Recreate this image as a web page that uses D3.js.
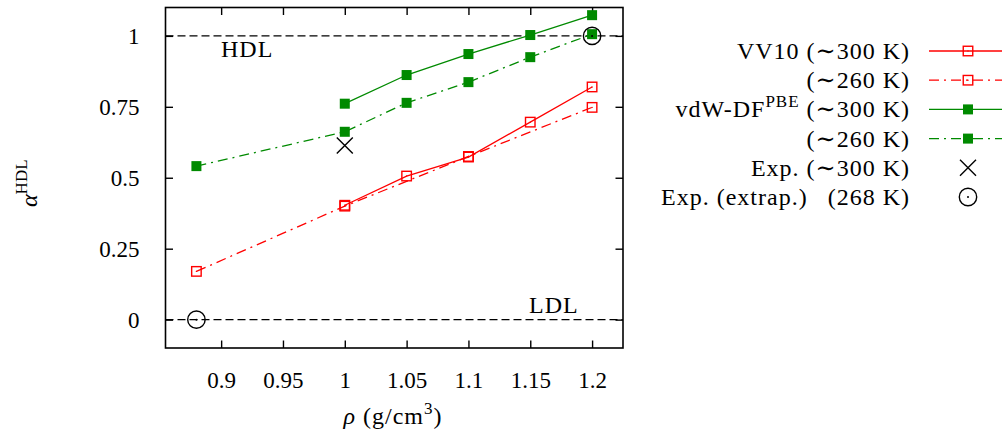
<!DOCTYPE html>
<html>
<head>
<meta charset="utf-8">
<script src="https://cdn.jsdelivr.net/npm/d3@7"></script>
<style>
  html, body { margin: 0; padding: 0; background: #fff; }
  svg { display: block; }
  text { font-family: "Liberation Serif", "DejaVu Serif", serif; fill: #000; }
</style>
</head>
<body>
<svg id="chart" width="1002" height="435"></svg>
<script>
// Density (g/cm^3) and HDL fraction for each simulation set
const vv10_300_rho = [1.0, 1.05, 1.1, 1.15, 1.2];
const vv10_300_val = [0.403, 0.506, 0.573, 0.696, 0.820];
const vv10_260_rho = [0.88, 1.0, 1.1, 1.2];
const vv10_260_val = [0.170, 0.400, 0.575, 0.748];
const vdw_300_rho = [1.0, 1.05, 1.1, 1.15, 1.2];
const vdw_300_val = [0.761, 0.862, 0.936, 1.003, 1.073];
const vdw_260_rho = [0.88, 1.0, 1.05, 1.1, 1.15, 1.2];
const vdw_260_val = [0.541, 0.662, 0.764, 0.837, 0.925, 1.006];
const exp300_rho = [1.0];
const exp300_val = [0.614];
const expExtrap_rho = [0.88, 1.2];
const expExtrap_val = [0.0, 1.0];

const xTicks = [0.9, 0.95, 1.0, 1.05, 1.1, 1.15, 1.2];
const xTickLabels = ["0.9", "0.95", "1", "1.05", "1.1", "1.15", "1.2"];
const yTicks = [0, 0.25, 0.5, 0.75, 1];
const yTickLabels = ["0", "0.25", "0.5", "0.75", "1"];

const RED = "#ff0000";
const GREEN = "#008a00";
const DASHDOT = "10,5,2,5";

const svg = d3.select("#chart");
const frame = { left: 165.5, right: 623, top: 7.5, bottom: 348 };

const x = d3.scaleLinear().domain([0.855, 1.225]).range([frame.left, frame.right]);
const y = d3.scaleLinear().domain([-0.1, 1.1]).range([frame.bottom, frame.top]);

const fontSize = 23;
const labelSize = 24;

// Reference lines for pure HDL (1) and pure LDL (0)
[0, 1].forEach(v => {
  svg.append("line")
    .attr("x1", frame.left).attr("x2", frame.right)
    .attr("y1", y(v)).attr("y2", y(v))
    .attr("stroke", "#000").attr("stroke-width", 1.3)
    .attr("stroke-dasharray", "8,4");
});

svg.append("text").attr("x", 221).attr("y", 57).attr("font-size", labelSize).attr("letter-spacing", 1).text("HDL");
svg.append("text").attr("x", 529).attr("y", 313).attr("font-size", labelSize).attr("letter-spacing", 1).text("LDL");

// Axes: inward ticks on all four sides
const tickLen = 7.5;
const axisG = svg.append("g");
const xb = d3.axisBottom(x).tickValues(xTicks).tickSizeInner(-tickLen).tickSizeOuter(0).tickFormat((d, i) => xTickLabels[i]).tickPadding(24);
const xt = d3.axisTop(x).tickValues(xTicks).tickSizeInner(-tickLen).tickSizeOuter(0).tickFormat("");
const yl = d3.axisLeft(y).tickValues(yTicks).tickSizeInner(-tickLen).tickSizeOuter(0).tickFormat((d, i) => yTickLabels[i]).tickPadding(26);
const yr = d3.axisRight(y).tickValues(yTicks).tickSizeInner(-tickLen).tickSizeOuter(0).tickFormat("");

function styleAxis(g) {
  g.select(".domain").remove();
  g.selectAll(".tick line").attr("stroke", "#000").attr("stroke-width", 1.4);
  g.selectAll(".tick text").attr("font-family", "Liberation Serif, DejaVu Serif, serif").attr("font-size", fontSize).attr("fill", "#000");
}
axisG.append("g").attr("transform", `translate(0,${frame.bottom})`).call(xb).call(styleAxis);
axisG.append("g").attr("transform", `translate(0,${frame.top})`).call(xt).call(styleAxis);
axisG.append("g").attr("transform", `translate(${frame.left},0)`).call(yl).call(styleAxis);
axisG.append("g").attr("transform", `translate(${frame.right},0)`).call(yr).call(styleAxis);

svg.append("rect")
  .attr("x", frame.left).attr("y", frame.top)
  .attr("width", frame.right - frame.left).attr("height", frame.bottom - frame.top)
  .attr("fill", "none").attr("stroke", "#000").attr("stroke-width", 1.6);

// Series
const series = [
  { label: "VV10", temp: "(∼300 K)", rho: vv10_300_rho, val: vv10_300_val, color: RED, dash: null, marker: "open" },
  { label: "", temp: "(∼260 K)", rho: vv10_260_rho, val: vv10_260_val, color: RED, dash: DASHDOT, marker: "open" },
  { label: "vdW-DF", sup: "PBE", temp: "(∼300 K)", rho: vdw_300_rho, val: vdw_300_val, color: GREEN, dash: null, marker: "filled" },
  { label: "", temp: "(∼260 K)", rho: vdw_260_rho, val: vdw_260_val, color: GREEN, dash: DASHDOT, marker: "filled" }
];

const line = d3.line().x(d => x(d[0])).y(d => y(d[1]));

function drawMarker(g, type, cx, cy, color) {
  if (type === "open") {
    g.append("rect").attr("x", cx - 4.75).attr("y", cy - 4.75).attr("width", 9.5).attr("height", 9.5)
      .attr("fill", "none").attr("stroke", color).attr("stroke-width", 1.4);
    g.append("circle").attr("cx", cx).attr("cy", cy).attr("r", 0.7).attr("fill", color);
  } else if (type === "filled") {
    g.append("rect").attr("x", cx - 5).attr("y", cy - 5).attr("width", 10).attr("height", 10)
      .attr("fill", color);
  } else if (type === "cross") {
    const s = 8;
    g.append("path").attr("d", `M${cx - s},${cy - s}L${cx + s},${cy + s}M${cx - s},${cy + s}L${cx + s},${cy - s}`)
      .attr("stroke", "#000").attr("stroke-width", 1.4).attr("fill", "none");
  } else if (type === "circle") {
    g.append("circle").attr("cx", cx).attr("cy", cy).attr("r", 8.7)
      .attr("fill", "none").attr("stroke", "#000").attr("stroke-width", 1.4);
    g.append("circle").attr("cx", cx).attr("cy", cy).attr("r", 1).attr("fill", "#000");
  }
}

const plotG = svg.append("g");
series.forEach(s => {
  const pts = s.rho.map((r, i) => [r, s.val[i]]);
  plotG.append("path").datum(pts).attr("d", line)
    .attr("fill", "none").attr("stroke", s.color).attr("stroke-width", 1.3)
    .attr("stroke-dasharray", s.dash);
});
series.forEach(s => {
  s.rho.forEach((r, i) => drawMarker(plotG, s.marker, x(r), y(s.val[i]), s.color));
});
exp300_rho.forEach((r, i) => drawMarker(plotG, "cross", x(r), y(exp300_val[i])));
expExtrap_rho.forEach((r, i) => drawMarker(plotG, "circle", x(r), y(expExtrap_val[i])));

// Legend
const legendRows = [
  ...series.map(s => ({ s, type: s.marker })),
  { s: { label: "Exp.", temp: "(∼300 K)" }, type: "cross" },
  { s: { label: "Exp. (extrap.)\u2002", temp: "(268 K)" }, type: "circle" }
];
const legTextRight = 910, legRow0 = 51, legStep = 29.2;
const sampleX1 = 929, sampleX2 = 1004, markerX = 968;

legendRows.forEach((row, i) => {
  const yy = legRow0 + i * legStep;
  const t = svg.append("text").attr("x", legTextRight).attr("y", yy + 8)
    .attr("text-anchor", "end").attr("font-size", labelSize).attr("letter-spacing", 1);
  if (row.s.label) t.append("tspan").text(row.s.label);
  if (row.s.sup) t.append("tspan").attr("dy", -10).attr("font-size", 17).text(row.s.sup);
  const tt = t.append("tspan").text((row.s.label ? " " : "") + row.s.temp);
  if (row.s.sup) tt.attr("dy", 10);
  if (row.type === "open" || row.type === "filled") {
    svg.append("line").attr("x1", sampleX1).attr("x2", sampleX2).attr("y1", yy).attr("y2", yy)
      .attr("stroke", row.s.color).attr("stroke-width", 1.3).attr("stroke-dasharray", row.s.dash);
  }
  drawMarker(svg, row.type, markerX, yy, row.s.color);
});

// Axis titles
const xTitle = svg.append("text").attr("x", 393).attr("y", 424).attr("text-anchor", "middle")
  .attr("font-size", labelSize).attr("letter-spacing", 1);
xTitle.append("tspan").attr("font-style", "italic").text("ρ");
xTitle.append("tspan").text(" (g/cm");
xTitle.append("tspan").attr("dy", -10).attr("font-size", 17).text("3");
xTitle.append("tspan").attr("dy", 10).text(")");

const yTitle = svg.append("text").attr("transform", "translate(37,207) rotate(-90)").attr("font-size", labelSize);
yTitle.append("tspan").attr("font-style", "italic").text("α");
yTitle.append("tspan").attr("dy", -10).attr("font-size", 17).text("HDL");
</script>
</body>
</html>
